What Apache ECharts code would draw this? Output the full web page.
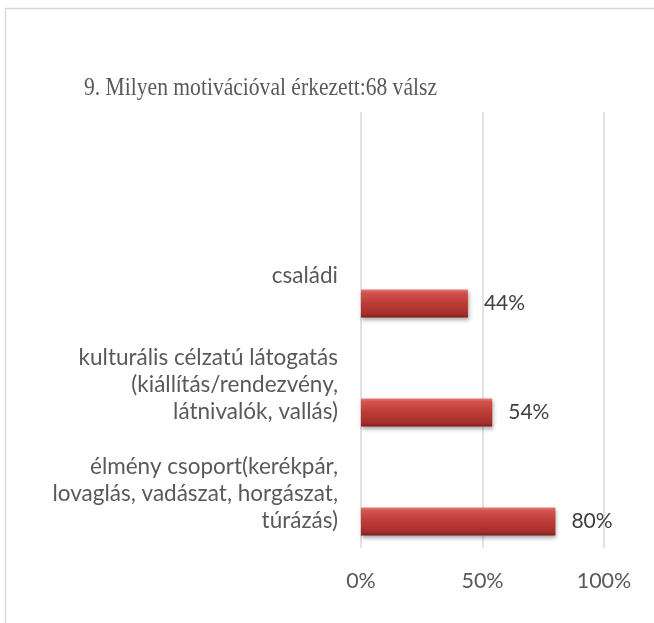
<!DOCTYPE html>
<html>
<head>
<meta charset="utf-8">
<script src="https://cdn.jsdelivr.net/npm/echarts@6/dist/echarts.min.js"></script>
<style>
html,body{margin:0;padding:0;background:#fff;}
#c{width:654px;height:623px;}
</style>
</head>
<body>
<div id="c"></div>
<script>
const titleText = '9. Milyen motivációval érkezett:68 válsz';
const categories = [
  'élmény csoport(kerékpár,\nlovaglás, vadászat, horgászat,\ntúrázás)',
  'kulturális célzatú látogatás\n(kiállítás/rendezvény,\nlátnivalók, vallás)',
  'családi',
  ''
];
const values = [0.80, 0.54, 0.44, null];
const emptyValues = [null, null, null, null];
const xTicks = [0, 0.5, 1];

const chart = echarts.init(document.getElementById('c'));
const barStyle = {
  color: new echarts.graphic.LinearGradient(0, 0, 0, 1, [
    {offset: 0, color: '#e47a76'},
    {offset: 0.12, color: '#d2524e'},
    {offset: 0.5, color: '#bd3b37'},
    {offset: 0.88, color: '#a52d2a'},
    {offset: 1, color: '#7a1d1b'}
  ]),
  shadowBlur: 4,
  shadowColor: 'rgba(0,0,0,0.35)',
  shadowOffsetX: 1,
  shadowOffsetY: 2
};
chart.setOption({
  animation: false,
  graphic: [{
    type: 'rect',
    shape: {x: 5.5, y: 8.5, width: 700, height: 700},
    style: {fill: 'none', stroke: '#d9d9d9', lineWidth: 1.5},
    silent: true
  }, {
    type: 'text',
    x: 84, y: 88, scaleX: 0.83, scaleY: 1,
    style: {
      text: titleText, x: 0, y: 0,
      fontFamily: 'Liberation Serif', fontSize: 26,
      fill: '#595959', align: 'left', verticalAlign: 'middle'
    },
    silent: true
  }],
  grid: {left: 361, right: 50, top: 112, bottom: 75, containLabel: false},
  xAxis: {
    type: 'value', min: 0, max: 1, interval: 0.5,
    axisLine: {show: false}, axisTick: {show: false},
    splitLine: {show: true, lineStyle: {color: '#d9d9d9', width: 1.5}},
    axisLabel: {
      margin: 22,
      color: '#595959', fontFamily: 'Lato', fontSize: 21.5,
      formatter: v => xTicks.indexOf(v) >= 0 ? Math.round(v * 100) + '%' : ''
    }
  },
  yAxis: {
    type: 'category', data: categories,
    axisLine: {show: false}, axisTick: {show: false},
    axisLabel: {margin: 23, color: '#595959', fontFamily: 'Lato', fontSize: 22.5, lineHeight: 27, align: 'right'}
  },
  series: [
    {type: 'bar', data: emptyValues, barWidth: 28, barGap: '0%', silent: true},
    {type: 'bar', data: emptyValues, barWidth: 28, barGap: '0%', silent: true},
    {
      type: 'bar', data: values, barWidth: 28, barGap: '0%',
      itemStyle: barStyle,
      label: {
        show: true, position: 'right', distance: 16,
        color: '#404040', fontFamily: 'Lato', fontSize: 21,
        formatter: p => p.value == null ? '' : Math.round(p.value * 100) + '%'
      }
    }
  ]
});
</script>
</body>
</html>
